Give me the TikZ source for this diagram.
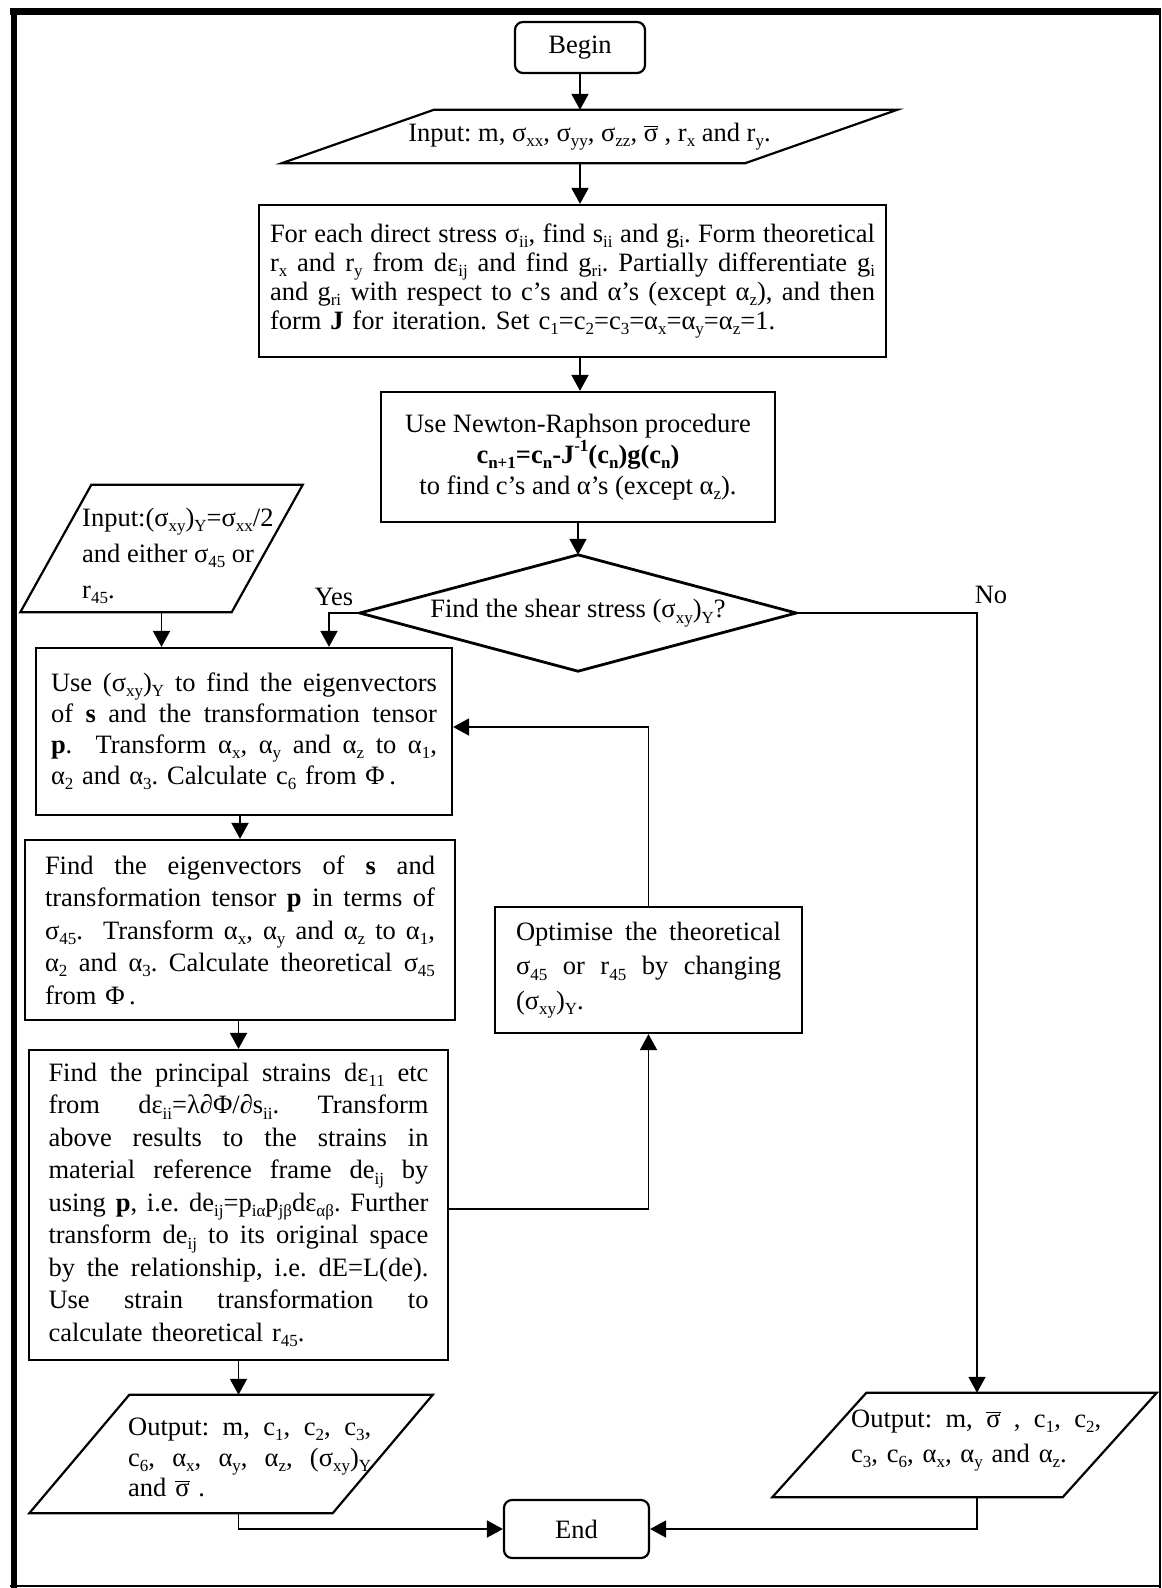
\documentclass[tikz,border=0pt]{standalone}
\usepackage{fontspec}
\setmainfont{Liberation Serif}
\usetikzlibrary{arrows.meta,calc}
\frenchspacing
\newcommand{\sbs}[1]{\raisebox{-0.2em}{\fontsize{17}{17}\selectfont #1}}
\newcommand{\sps}[1]{\raisebox{0.45em}{\fontsize{17}{17}\selectfont #1}}
\newcommand{\sbar}{\ensuremath{\overline{\mbox{σ}}}}
\newcommand{\jl}[1]{\leavevmode\hbox to \hsize{\spaceskip=0.25em plus 1fil minus 0.1em\xspaceskip=\spaceskip #1}}
\newcommand{\drawpara}[2]{\draw[boxline] ($(#1.north west)+(#2/2,0)$) -- ($(#1.north east)+(#2/2,0)$) -- ($(#1.south east)-(#2/2,0)$) -- ($(#1.south west)-(#2/2,0)$) -- cycle;}
\begin{document}
\begin{tikzpicture}[x=1pt,y=-1pt,
  boxline/.style={line width=2.2pt, line join=miter},
  proc/.style={draw, line width=2.2pt, inner sep=0pt, align=left},
  term/.style={draw, line width=2.2pt, rounded corners=8pt, inner sep=0pt},
  para/.style={inner sep=0pt, draw=none},
  arr/.style={line width=1.8pt, -{Triangle[length=16pt,width=17pt]}},
  lab/.style={inner sep=0pt},
  font=\fontsize{26.5}{31}\selectfont]
\useasboundingbox (0,0) rectangle (1162,1588);
% frame
\draw[line width=7pt] (10,11) -- (1161,11);
\draw[line width=6pt] (13.5,8) -- (13.5,1588);
\draw[line width=2pt] (1160,8) -- (1160,1588);
\draw[line width=2pt] (10,1586) -- (1161,1586);

% nodes
\node[term, minimum width=130, minimum height=51] (begin) at (580,47.5) {Begin};

\node[para, minimum width=463, minimum height=53] (in1) at (589.5,136.5) {Input: m, σ\sbs{xx}, σ\sbs{yy}, σ\sbs{zz}, \sbar\ , r\sbs{x} and r\sbs{y}.};
\drawpara{in1}{152}

\node[proc, minimum width=627, minimum height=152, text width=605, font=\fontsize{26.5}{29}\selectfont] (box1) at (572.5,281) {%
\jl{For each direct stress σ\sbs{ii}, find s\sbs{ii} and g\sbs{i}. Form theoretical}\\
\jl{r\sbs{x} and r\sbs{y} from dε\sbs{ij} and find g\sbs{ri}. Partially differentiate g\sbs{i}}\\
\jl{and g\sbs{ri} with respect to c’s and α’s (except α\sbs{z}), and then}\\
form \textbf{J} for iteration. Set c\sbs{1}=c\sbs{2}=c\sbs{3}=α\sbs{x}=α\sbs{y}=α\sbs{z}=1.};

\node[proc, align=center, minimum width=394, minimum height=130, font=\fontsize{26.5}{31}\selectfont] (box2) at (578,457) {Use Newton-Raphson procedure\\ \textbf{c\sbs{n+1}=c\sbs{n}-J\sps{-1}(c\sbs{n})g(c\sbs{n})}\\ to find c’s and α’s (except α\sbs{z}).};

\node[minimum width=436, minimum height=116, inner sep=0pt] (dia) at (578,613) {Find the shear stress (σ\sbs{xy})\sbs{Y}?};
\draw[line width=2.8pt, line join=miter] (dia.north) -- (dia.east) -- (dia.south) -- (dia.west) -- cycle;

\node[para, minimum width=211, minimum height=127] (in2) at (161.5,548.5) {};
\drawpara{in2}{71}
\node[lab, anchor=west, align=left, font=\fontsize{26.5}{36}\selectfont] (in2t) at (82,556) {Input:(σ\sbs{xy})\sbs{Y}=σ\sbs{xx}/2\\and either σ\sbs{45} or\\r\sbs{45}.};

\node[proc, minimum width=416, minimum height=167, text width=386, font=\fontsize{26.5}{31}\selectfont] (box3) at (244,731.5) {%
\jl{Use (σ\sbs{xy})\sbs{Y} to find the eigenvectors}\\
\jl{of \textbf{s} and the transformation tensor}\\
\jl{\textbf{p}.\ \ Transform α\sbs{x}, α\sbs{y} and α\sbs{z} to α\sbs{1},}\\
α\sbs{2} and α\sbs{3}. Calculate c\sbs{6} from Φ\,.};

\node[proc, minimum width=430, minimum height=180, text width=390, font=\fontsize{26.5}{32.5}\selectfont] (box4) at (240,930) {%
\jl{Find the eigenvectors of \textbf{s} and}\\
\jl{transformation tensor \textbf{p} in terms of}\\
\jl{σ\sbs{45}.\ \ Transform α\sbs{x}, α\sbs{y} and α\sbs{z} to α\sbs{1},}\\
\jl{α\sbs{2} and α\sbs{3}. Calculate theoretical σ\sbs{45}}\\
from Φ\,.};

\node[proc, minimum width=419, minimum height=310, text width=380, font=\fontsize{26.5}{32.5}\selectfont] (box5) at (238.5,1205) {%
\jl{Find the principal strains dε\sbs{11} etc}\\
\jl{from dε\sbs{ii}=λ∂Φ/∂s\sbs{ii}. Transform}\\
\jl{above results to the strains in}\\
\jl{material reference frame de\sbs{ij} by}\\
\jl{using \textbf{p}, i.e. de\sbs{ij}=p\sbs{iα}p\sbs{jβ}dε\sbs{αβ}. Further}\\
\jl{transform de\sbs{ij} to its original space}\\
\jl{by the relationship, i.e. dE=L(de).}\\
\jl{Use strain transformation to}\\
calculate theoretical r\sbs{45}.};

\node[proc, minimum width=307, minimum height=126, text width=265, font=\fontsize{26.5}{34.5}\selectfont] (opt) at (648.5,970) {%
\jl{Optimise the theoretical}\\
\jl{σ\sbs{45} or r\sbs{45} by changing}\\
(σ\sbs{xy})\sbs{Y}.};

\node[para, minimum width=303, minimum height=118] (out1) at (231,1454) {};
\drawpara{out1}{100}
\node[lab, anchor=west, text width=243, align=left, font=\fontsize{26.5}{30.5}\selectfont] (out1t) at (128,1457.5) {%
\jl{Output: m, c\sbs{1}, c\sbs{2}, c\sbs{3},}\\
\jl{c\sbs{6}, α\sbs{x}, α\sbs{y}, α\sbs{z}, (σ\sbs{xy})\sbs{Y}}\\
and \sbar\ .};

\node[para, minimum width=290, minimum height=104] (out2) at (964.5,1445) {};
\drawpara{out2}{94}
\node[lab, anchor=west, text width=250, align=left, font=\fontsize{26.5}{35}\selectfont] (out2t) at (851,1440.5) {%
\jl{Output: m, \sbar\ , c\sbs{1}, c\sbs{2},}\\
c\sbs{3}, c\sbs{6}, α\sbs{x}, α\sbs{y} and α\sbs{z}.};

\node[term, minimum width=145, minimum height=58] (end) at (576.5,1529) {End};

\node[lab] (yes) at (334,597) {Yes};
\node[lab] (no) at (991,595) {No};

\coordinate (yc) at (329,613);
\coordinate (nc) at (977,613);

% connectors
\draw[arr] (begin.south) -- (begin.south |- in1.north);
\draw[arr] (begin.south |- in1.south) -- (begin.south |- box1.north);
\draw[arr] (begin.south |- box1.south) -- (begin.south |- box2.north);
\draw[arr] (box2.south) -- (dia.north);
\draw[arr] (dia.west) -- (yc) -- (yc |- box3.north);
\draw[arr] (in2.south) -- (in2.south |- box3.north);
\draw[arr] (box4.north |- box3.south) -- (box4.north);
\draw[arr] (box5.north |- box4.south) -- (box5.north);
\draw[arr] (box5.east |- 0,1209) -| (opt.south);
\draw[arr] (opt.north) |- (box3.east |- 0,727);
\draw[arr] (dia.east) -- (nc) -- (nc |- out2.north);
\draw[arr] (box5.south) -- (box5.south |- out1.north);
\draw[arr] (box5.south |- out1.south) |- (end.west);
\draw[arr] (nc |- out2.south) |- (end.east);
\end{tikzpicture}
\end{document}
